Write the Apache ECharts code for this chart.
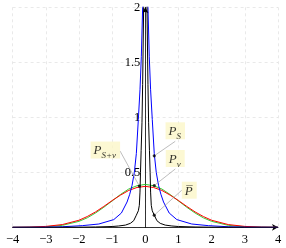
<!DOCTYPE html>
<html><head><meta charset="utf-8">
<script src="https://cdn.jsdelivr.net/npm/echarts@6/dist/echarts.min.js"></script>
<style>html,body{margin:0;padding:0;background:#fff}#c{width:286px;height:248px}</style>
</head><body><div id="c"></div>
<script>
// ---- data ----
const xTicks = [-4, -3, -2, -1, 0, 1, 2, 3, 4];
const yTicks = [0.5, 1, 1.5, 2];

const greenX = [-4,-3.5,-3,-2.5,-2,-1.75,-1.5,-1.25,-1,-0.75,-0.5,-0.25,0,0.25,0.5,0.75,1,1.25,1.5,1.75,2,2.5,3,3.5,4];
const greenY = [0,0.001,0.005,0.018,0.054,0.086,0.13,0.182,0.24,0.298,0.348,0.378,0.39,0.378,0.348,0.298,0.24,0.182,0.13,0.086,0.054,0.018,0.005,0.001,0];

const redX = [-4,-3.5,-3,-2.5,-2,-1.75,-1.5,-1.25,-1,-0.75,-0.5,-0.25,0,0.25,0.5,0.75,1,1.25,1.5,1.75,2,2.5,3,3.5,4];
const redY = [0,0.002,0.008,0.025,0.064,0.098,0.14,0.19,0.243,0.292,0.335,0.362,0.372,0.362,0.335,0.292,0.243,0.19,0.14,0.098,0.064,0.025,0.008,0.002,0];

const blueX = [-4,-3,-2.5,-1.9,-1.4,-0.95,-0.72,-0.55,-0.47,-0.4,-0.33,-0.27,-0.21,-0.16,-0.12,-0.08,-0.05,0,0.05,0.08,0.12,0.16,0.21,0.27,0.33,0.4,0.47,0.55,0.72,0.95,1.4,1.9,2.5,3,4];
const blueY = [0,0.001,0.005,0.015,0.03,0.07,0.13,0.23,0.3,0.38,0.5,0.67,0.98,1.25,1.55,2.0,2.4,3.2,2.4,2.0,1.55,1.25,0.98,0.67,0.5,0.38,0.3,0.23,0.13,0.07,0.03,0.015,0.005,0.001,0];

const blackX = [-4,-3,-2,-1.5,-1,-0.8,-0.6,-0.45,-0.35,-0.27,-0.21,-0.18,-0.16,-0.145,-0.125,-0.1,-0.08,-0.05,-0.03,0,0.03,0.05,0.08,0.1,0.125,0.145,0.16,0.18,0.21,0.27,0.35,0.45,0.6,0.8,1,1.5,2,3,4];
const blackY = [0,0,0.001,0.003,0.007,0.012,0.02,0.036,0.06,0.11,0.15,0.2,0.32,0.5,0.7,0.95,1.3,2.0,3.0,8,3.0,2.0,1.3,0.95,0.7,0.5,0.32,0.2,0.15,0.11,0.06,0.036,0.02,0.012,0.007,0.003,0.001,0,0];

const annX = [-0.18, 0.27, 0.27, 0.27];
const annY = [0.375, 0.65, 0.38, 0.11];
const annText = [
  '{p|P}{s|S+ν}',
  '{p|P}{s|S}',
  '{p|P}{s|ν}',
  '{p|P\u0305}'
];

// ---- chart ----
const pair = (xs, ys) => xs.map((x, i) => [x, ys[i]]);
const annOffsets = [[-34, -36], [21, -25], [21, -27], [35, -25]];
const serif = 'Liberation Serif';
const W = 286, gridL = 12.6, gridR = 8;

const chart = echarts.init(document.getElementById('c'), null, {renderer: 'canvas'});
const lineS = (name, data, color) => ({
  type: 'line', name, data, showSymbol: false, smooth: false, clip: true,
  lineStyle: {color, width: 1}, z: 3, animation: false
});

chart.setOption({
  animation: false,
  grid: {left: gridL, right: gridR, top: 7.3, bottom: 20.7, containLabel: false, outerBoundsMode: 'none'},
  xAxis: {
    type: 'value', min: xTicks[0], max: xTicks[xTicks.length - 1], interval: 1,
    axisLine: {onZero: true, symbol: ['none', 'arrow'], symbolSize: [5, 6], lineStyle: {color: '#000', width: 0.8}},
    axisTick: {show: false},
    axisLabel: {margin: 6, color: '#000', fontFamily: serif, fontSize: 12.5,
      formatter: v => (v < 0 ? '\u2212' + (-v) : '' + v)},
    splitLine: {show: true, lineStyle: {color: '#e4e4e4', type: [3, 3], width: 0.8}}
  },
  yAxis: {
    type: 'value', min: 0, max: yTicks[yTicks.length - 1], interval: 0.5,
    position: 'left', offset: -(W - gridL - gridR) / 2,
    axisLine: {show: true, onZero: false, symbol: ['none', 'arrow'], symbolSize: [5, 6], lineStyle: {color: '#000', width: 0.8}},
    axisTick: {show: false},
    axisLabel: {margin: 5, color: '#000', fontFamily: serif, fontSize: 12.5,
      formatter: v => (yTicks.indexOf(v) >= 0 ? '' + v : '')},
    splitLine: {show: true, lineStyle: {color: '#e4e4e4', type: [3, 3], width: 0.8}}
  },
  series: [
    lineS('green', pair(greenX, greenY), '#33cc33'),
    lineS('red', pair(redX, redY), '#ff0000'),
    lineS('blue', pair(blueX, blueY), '#0000ff'),
    lineS('black', pair(blackX, blackY), '#000000'),
    {
      type: 'scatter', z: 5, symbol: 'circle', symbolSize: 3.2,
      itemStyle: {color: '#000'},
      data: pair(annX, annY),
      label: {
        show: true, position: 'inside',
        formatter: p => annText[p.dataIndex],
        backgroundColor: '#fbf6c8', padding: [2, 4, 1, 3],
        rich: {
          p: {fontFamily: serif, fontStyle: 'italic', fontSize: 13, color: '#000', verticalAlign: 'bottom', lineHeight: 14},
          s: {fontFamily: serif, fontStyle: 'italic', fontSize: 9, color: '#000', verticalAlign: 'bottom', lineHeight: 9, padding: [0, 0, -3, 0]}
        }
      },
      labelLayout: p => ({dx: annOffsets[p.dataIndex][0], dy: annOffsets[p.dataIndex][1]}),
      labelLine: {show: true, lineStyle: {color: '#a0a0a0', width: 0.7}}
    }
  ]
});
</script></body></html>
